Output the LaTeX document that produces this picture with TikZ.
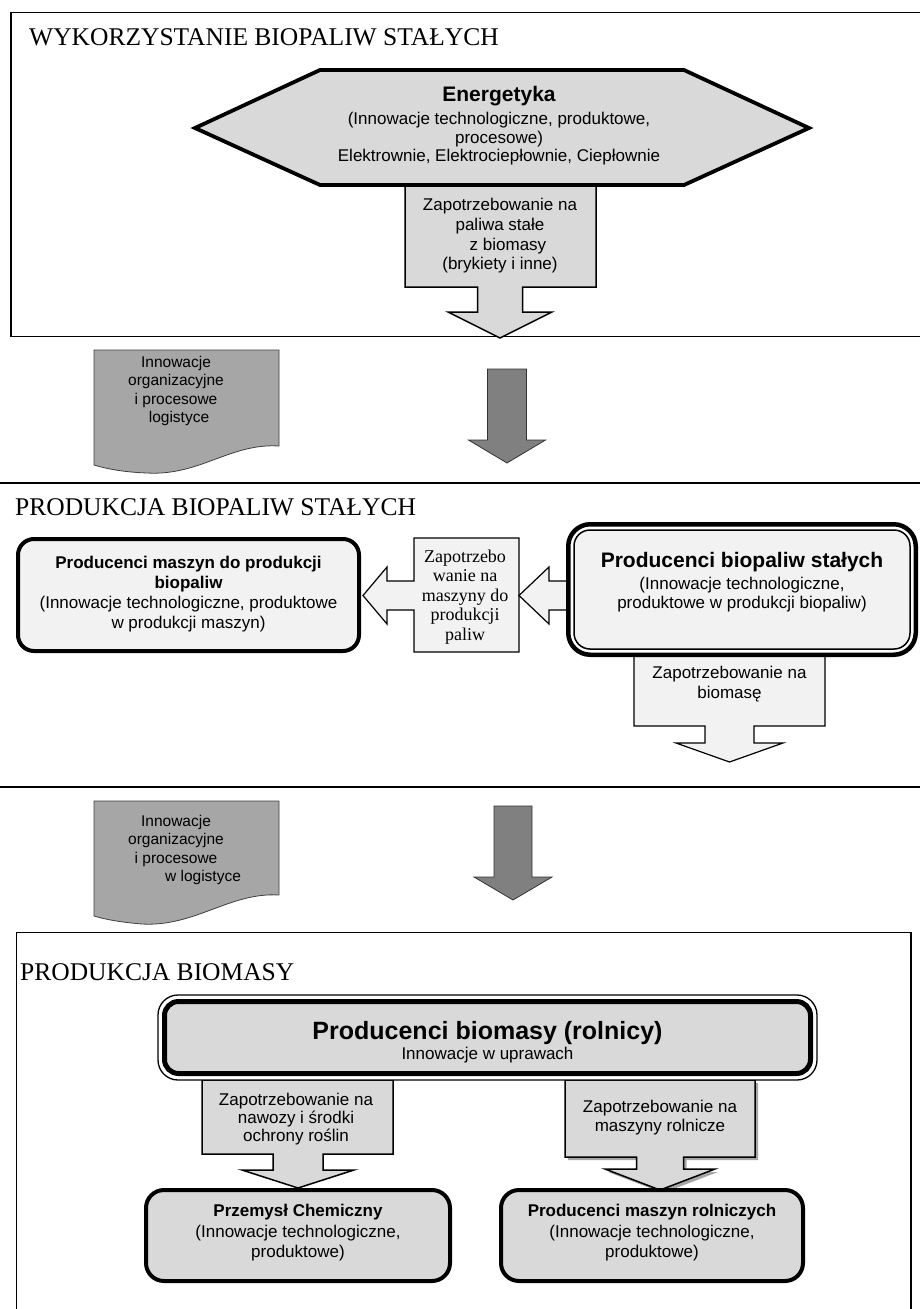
\documentclass[tikz,border=0pt]{standalone}
\usepackage{fontspec}
\setmainfont{Liberation Serif}
\setsansfont{Liberation Sans}
\definecolor{lg}{HTML}{D9D9D9}
\definecolor{vlg}{HTML}{F2F2F2}
\definecolor{docg}{HTML}{A6A6A6}
\definecolor{arrg}{HTML}{808080}
\begin{document}
\begin{tikzpicture}[x=1pt,y=-1pt,
  frame/.style={draw=black,line width=1.5pt},
  sepline/.style={draw=black,line width=1.6pt},
  sectitle/.style={anchor=base west,inner sep=0pt,font=\fontsize{25.5}{28}\selectfont},
  txt/.style={align=center,inner sep=0pt,font=\sffamily\fontsize{17}{20}\selectfont},
  calloutA/.style={draw=black,line width=1.5pt,fill=lg,line join=miter},
  calloutB/.style={draw=black,line width=1.2pt,fill=vlg,line join=miter},
  docshape/.style={draw=black!75,line width=0.8pt,fill=docg},
  darrow/.style={draw=black!80,line width=0.8pt,fill=arrg,line join=miter},
  thickbox/.style={draw=black,line width=4pt},
]
\useasboundingbox (0,0) rectangle (920,1309);
\fill[white] (0,0) rectangle (920,1309);

% ---------------- top section ----------------
\draw[frame] (930,12.7) -- (11,12.7) -- (11,336.6) -- (930,336.6);
\node[sectitle] (t1) at (29,45) {WYKORZYSTANIE BIOPALIW STAŁYCH};

\draw[calloutA] (405,185) -- (596,185) -- (596,287) -- (522.5,287) -- (522.5,312)
  -- (552,312) -- (500,338) -- (448,312) -- (477.5,312) -- (477.5,287) -- (405,287) -- cycle;
\draw[draw=black,line width=3.8pt,fill=lg,line join=miter]
  (195,128) -- (320,70) -- (684,70) -- (809,128) -- (684,185) -- (320,185) -- cycle;
\node[txt,font=\sffamily\fontsize{17}{18.6}\selectfont] (energ) at (499,126)
  {{\bfseries\fontsize{21}{24}\selectfont Energetyka}\\[4pt]
   (Innowacje technologiczne, produktowe,\\ procesowe)\\
   Elektrownie, Elektrociepłownie, Ciepłownie};
\node[txt,font=\sffamily\fontsize{17}{19.7}\selectfont] (zap1) at (500,236)
  {Zapotrzebowanie na\\ paliwa stałe\hspace*{10pt}\\ \hspace*{16pt}z biomasy\\ (brykiety i inne)};

% ---------------- between 1 and 2 ----------------
\draw[docshape] (94,350) -- (279,350) -- (279,446)
  .. controls (230,443) and (200,476) .. (147,473)
  .. controls (120,472) and (104,468) .. (94,465) -- cycle;
\node[txt,font=\sffamily\fontsize{15.5}{18.3}\selectfont] (doc1) at (176,391)
  {Innowacje\\ organizacyjne\\ i procesowe\hspace*{8pt}\\ \hspace*{6pt}logistyce};
\draw[darrow] (487.5,369) -- (526.5,369) -- (526.5,440) -- (545.5,440) -- (507,463)
  -- (468.5,440) -- (487.5,440) -- cycle;

\draw[sepline] (0,483) -- (920,483);

% ---------------- middle section ----------------
\node[sectitle] (t2) at (15,515) {PRODUKCJA BIOPALIW STAŁYCH};

\draw[thickbox,fill=vlg,rounded corners=16pt] (18,539) rectangle (359,651);
\node[txt] (maszbio) at (188.5,594)
  {\bfseries Producenci maszyn do produkcji\\ \bfseries biopaliw\\
   (Innowacje technologiczne, produktowe\\ w produkcji maszyn)};

\draw[calloutB] (519,538) -- (519,652) -- (414,652) -- (414,610) -- (387,610) -- (387,624)
  -- (363,595.5) -- (387,567) -- (387,581) -- (414,581) -- (414,538) -- cycle;
\node[align=center,inner sep=0pt,font=\fontsize{18}{19.5}\selectfont] (zap2) at (465,597)
  {Zapotrzebo\\ wanie na\\ maszyny do\\ produkcji\\ paliw};

\draw[calloutB] (575,581) -- (549,581) -- (549,567) -- (519,595.5) -- (549,624) -- (549,610) -- (575,610);
\draw[calloutB] (634,650) -- (634,726) -- (705,726) -- (705,743) -- (676,743) -- (729.5,762)
  -- (783,743) -- (754,743) -- (754,726) -- (825,726) -- (825,650);
\draw[draw=black,line width=4.5pt,fill=white,rounded corners=22pt] (568.25,524.25) rectangle (915.75,654.75);
\draw[draw=black,line width=1.5pt,fill=vlg,rounded corners=16pt] (574,530) rectangle (910,649);
\node[txt,font=\sffamily\fontsize{17}{19}\selectfont] (prodbio) at (742,582)
  {{\bfseries\fontsize{21}{24}\selectfont Producenci biopaliw stałych}\\[3pt]
   (Innowacje technologiczne,\\ produktowe w produkcji biopaliw)};
\node[txt] (zap3) at (729.5,684) {Zapotrzebowanie na\\ biomasę};

\draw[sepline] (0,787) -- (920,787);

% ---------------- between 2 and 3 ----------------
\draw[docshape] (94,801) -- (279,801) -- (279,895)
  .. controls (230,892) and (195,927) .. (142,924)
  .. controls (118,922) and (104,919) .. (94,916) -- cycle;
\node[txt,font=\sffamily\fontsize{15.5}{18.3}\selectfont] (doc2) at (176,850)
  {Innowacje\\ organizacyjne\\ i procesowe\hspace*{8pt}\\ \hspace*{54pt}w logistyce};
\draw[darrow] (494,806) -- (532,806) -- (532,877) -- (552,877) -- (513,900)
  -- (474,877) -- (494,877) -- cycle;

% ---------------- bottom section ----------------
\draw[frame] (16.7,1320) -- (16.7,932.7) -- (911,932.7) -- (911,1320);
\node[sectitle] (t3) at (20,980) {PRODUKCJA BIOMASY};

\draw[calloutA] (202,1080) -- (393,1080) -- (393,1154) -- (323,1154) -- (323,1170) -- (354,1170)
  -- (298,1188) -- (242,1170) -- (273,1170) -- (273,1154) -- (202,1154) -- cycle;
\fill[black!35] (568,1083) -- (758,1083) -- (758,1160) -- (686.5,1160) -- (686.5,1172)
  -- (718,1172) -- (663,1193) -- (608,1172) -- (639.5,1172) -- (639.5,1160) -- (568,1160) -- cycle;
\draw[calloutA] (565,1080) -- (755,1080) -- (755,1157) -- (683.5,1157) -- (683.5,1169) -- (715,1169)
  -- (660,1190) -- (605,1169) -- (636.5,1169) -- (636.5,1157) -- (565,1157) -- cycle;

\draw[draw=black,line width=1.3pt,fill=white,rounded corners=20pt] (158,995) rectangle (817,1080);
\draw[draw=black,line width=5pt,fill=lg,rounded corners=14pt] (164.5,1001.5) rectangle (810.5,1073.5);
\node[txt] (rolnicy) at (487.5,1042)
  {{\bfseries\fontsize{25}{28}\selectfont Producenci biomasy (rolnicy)}\\ Innowacje w uprawach};

\node[txt,font=\sffamily\fontsize{17}{17.6}\selectfont] (zap4) at (296,1119)
  {Zapotrzebowanie na\\ nawozy i środki\\ ochrony roślin};
\node[txt,font=\sffamily\fontsize{17}{19}\selectfont] (zap5) at (660,1118)
  {Zapotrzebowanie na\\ maszyny rolnicze};

\draw[thickbox,fill=lg,rounded corners=18pt] (146,1190) rectangle (450,1281);
\node[txt,font=\sffamily\fontsize{17}{20.5}\selectfont] (chem) at (298,1233)
  {\bfseries Przemysł Chemiczny\\ (Innowacje technologiczne,\\ produktowe)};
\draw[thickbox,fill=lg,rounded corners=18pt] (501,1190) rectangle (803,1281);
\node[txt,font=\sffamily\fontsize{17}{20.5}\selectfont] (maszroln) at (652,1233)
  {\bfseries Producenci maszyn rolniczych\\ (Innowacje technologiczne,\\ produktowe)};
\end{tikzpicture}
\end{document}
